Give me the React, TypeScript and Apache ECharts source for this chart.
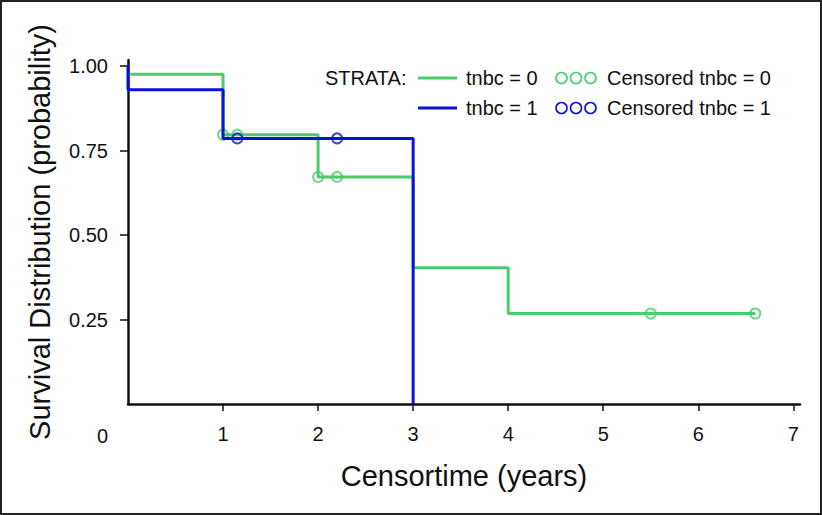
import React, { useEffect, useRef } from "react";
import * as echarts from "echarts";

const xTicks = [1, 2, 3, 4, 5, 6, 7];
const yTicks = [0.25, 0.5, 0.75, 1.0];
const tnbc0Curve: [number, number][] = [[0, 0.976], [1, 0.797], [2, 0.672], [3, 0.403], [4, 0.268], [6.6, 0.268]];
const tnbc1Curve: [number, number][] = [[0, 1.0], [0, 0.93], [1, 0.786], [3, 0]];
const tnbc0Censored: [number, number][] = [[1.0, 0.797], [1.15, 0.797], [2.0, 0.672], [2.2, 0.672], [5.5, 0.268], [6.6, 0.268]];
const tnbc1Censored: [number, number][] = [[1.15, 0.786], [2.2, 0.786]];

const GREEN = "#4ccb6a";
const BLUE = "#0a12d6";
const FONT = "'Liberation Sans', Arial, Helvetica, sans-serif";

export default function App() {
  const ref = useRef<HTMLDivElement>(null);
  useEffect(() => {
    if (!ref.current) return;
    const chart = echarts.init(ref.current, null, { renderer: "svg" });
    const legendText = (x: number, y: number, text: string) => ({
      type: "text", x, y, style: { text, fill: "#111", font: `20px ${FONT}`, verticalAlign: "middle" },
    });
    const legendCircles = (x: number, y: number, color: string) =>
      [0, 1, 2].map((i) => ({
        type: "circle", shape: { cx: x + i * 14.5, cy: y, r: 5.5 },
        style: { fill: "none", stroke: color, lineWidth: 1.6 },
      }));
    chart.setOption({
      animation: false,
      grid: { left: 128, right: 22, top: 60, bottom: 111 },
      xAxis: {
        type: "value", min: 0, max: 7.07, interval: 1,
        name: "Censortime (years)", nameLocation: "middle", nameGap: 57,
        nameTextStyle: { fontFamily: FONT, fontSize: 29, color: "#111" },
        axisLine: { lineStyle: { color: "#111", width: 2.5 } },
        axisTick: { show: true, length: 7, customValues: xTicks, lineStyle: { color: "#111", width: 1.5 } },
        axisLabel: { customValues: xTicks, margin: 20, fontFamily: FONT, fontSize: 20, color: "#111" },
        splitLine: { show: false },
      },
      yAxis: {
        type: "value", min: 0, max: 1.018,
        name: "Survival Distribution (probability)", nameLocation: "middle", nameGap: 74,
        nameTextStyle: { fontFamily: FONT, fontSize: 29, color: "#111" },
        axisLine: { show: true, lineStyle: { color: "#111", width: 2.5 } },
        axisTick: { show: true, length: 8, customValues: yTicks, lineStyle: { color: "#111", width: 1.5 } },
        axisLabel: {
          customValues: yTicks, margin: 20, fontFamily: FONT, fontSize: 20, color: "#111",
          formatter: (v: number) => v.toFixed(2),
        },
        splitLine: { show: false },
      },
      series: [
        {
          name: "tnbc = 0", type: "line", step: "end", data: tnbc0Curve, showSymbol: false,
          lineStyle: { color: GREEN, width: 3 }, itemStyle: { color: GREEN }, z: 2,
        },
        {
          name: "Censored tnbc = 0", type: "scatter", data: tnbc0Censored, symbol: "circle", symbolSize: 10,
          itemStyle: { color: "rgba(255,255,255,0)", borderColor: GREEN, borderWidth: 2 }, z: 3,
        },
        {
          name: "tnbc = 1", type: "line", step: "end", data: tnbc1Curve, showSymbol: false,
          lineStyle: { color: BLUE, width: 3 }, itemStyle: { color: BLUE }, z: 4,
        },
        {
          name: "Censored tnbc = 1", type: "scatter", data: tnbc1Censored, symbol: "circle", symbolSize: 10,
          itemStyle: { color: "rgba(255,255,255,0)", borderColor: BLUE, borderWidth: 2 }, z: 5,
        },
      ],
      graphic: [
        { type: "rect", shape: { x: 1, y: 1, width: 820, height: 513 }, style: { fill: "none", stroke: "#222", lineWidth: 2 } },
        { type: "text", x: 102.5, y: 436, style: { text: "0", fill: "#111", font: `20px ${FONT}`, align: "center", verticalAlign: "middle" } },
        legendText(325, 78, "STRATA:"),
        { type: "line", shape: { x1: 418, y1: 78, x2: 457, y2: 78 }, style: { stroke: GREEN, lineWidth: 3 } },
        legendText(466, 78, "tnbc = 0"),
        ...legendCircles(561.5, 78, GREEN),
        legendText(607, 78, "Censored tnbc = 0"),
        { type: "line", shape: { x1: 418, y1: 108, x2: 457, y2: 108 }, style: { stroke: BLUE, lineWidth: 3 } },
        legendText(466, 108, "tnbc = 1"),
        ...legendCircles(561.5, 108, BLUE),
        legendText(607, 108, "Censored tnbc = 1"),
      ],
    });
    return () => chart.dispose();
  }, []);
  return <div ref={ref} style={{ position: "absolute", left: 0, top: 0, width: 822, height: 515 }} />;
}
